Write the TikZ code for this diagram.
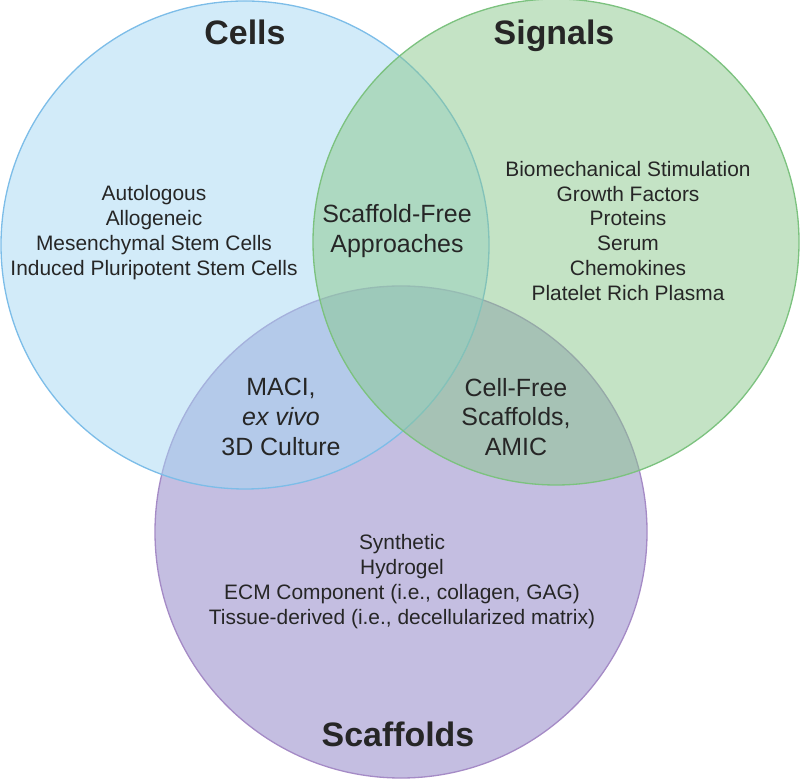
\documentclass[tikz,border=0pt]{standalone}
\usepackage{fontspec}
\setmainfont{Liberation Sans}
\usepackage{tikz}

\definecolor{cellfill}{HTML}{A5D7F3}
\definecolor{cellline}{HTML}{7DBDE8}
\definecolor{signalfill}{HTML}{89C78B}
\definecolor{signalline}{HTML}{7CC27F}
\definecolor{scaffill}{HTML}{897DC3}
\definecolor{scafline}{HTML}{A58BC6}
\definecolor{txt}{HTML}{262626}

\begin{document}
\begin{tikzpicture}[line cap=round,line join=round,x=0.02cm,y=0.02cm,
    circ/.style={fill opacity=0.5,line width=0.75pt},
    title/.style={font=\fontsize{19.3}{23}\selectfont\bfseries,text=txt,anchor=base},
    item/.style={font=\fontsize{11.9}{14.2}\selectfont,text=txt,align=center},
    overlap/.style={font=\fontsize{14.2}{17}\selectfont,text=txt,align=center}]
      \useasboundingbox (0,0) rectangle (800,780);

      \coordinate (S) at (401,248);
      \coordinate (C) at (245,535);
      \coordinate (G) at (556,538);

      \filldraw[circ,fill=scaffill,draw=scafline] (S) circle (246);
      \filldraw[circ,fill=cellfill,draw=cellline] (C) circle (244);
      \filldraw[circ,fill=signalfill,draw=signalline] (G) circle (243);

      \node[title] (cellsT) at (245,735) {Cells};
      \node[title] (signalsT) at (554,735) {Signals};
      \node[title] (scaffoldsT) at (398,33) {Scaffolds};

      \node[item] (cellsL) at (154,547) {Autologous\\Allogeneic\\Mesenchymal Stem Cells\\Induced Pluripotent Stem Cells};
      \node[item] (signalsL) at (628,549) {Biomechanical Stimulation\\Growth Factors\\Proteins\\Serum\\Chemokines\\Platelet Rich Plasma};
      \node[item] (scaffoldsL) at (402,198) {Synthetic\\Hydrogel\\ECM Component (i.e., collagen, GAG)\\Tissue-derived (i.e., decellularized matrix)};

      \node[overlap] (freeA) at (397,549) {Scaffold-Free\\Approaches};
      \node[overlap] (maci) at (281,363) {MACI,\\\textit{ex vivo}\\3D Culture};
      \node[overlap] (cellfree) at (516,363) {Cell-Free\\Scaffolds,\\AMIC};

\end{tikzpicture}
\end{document}
